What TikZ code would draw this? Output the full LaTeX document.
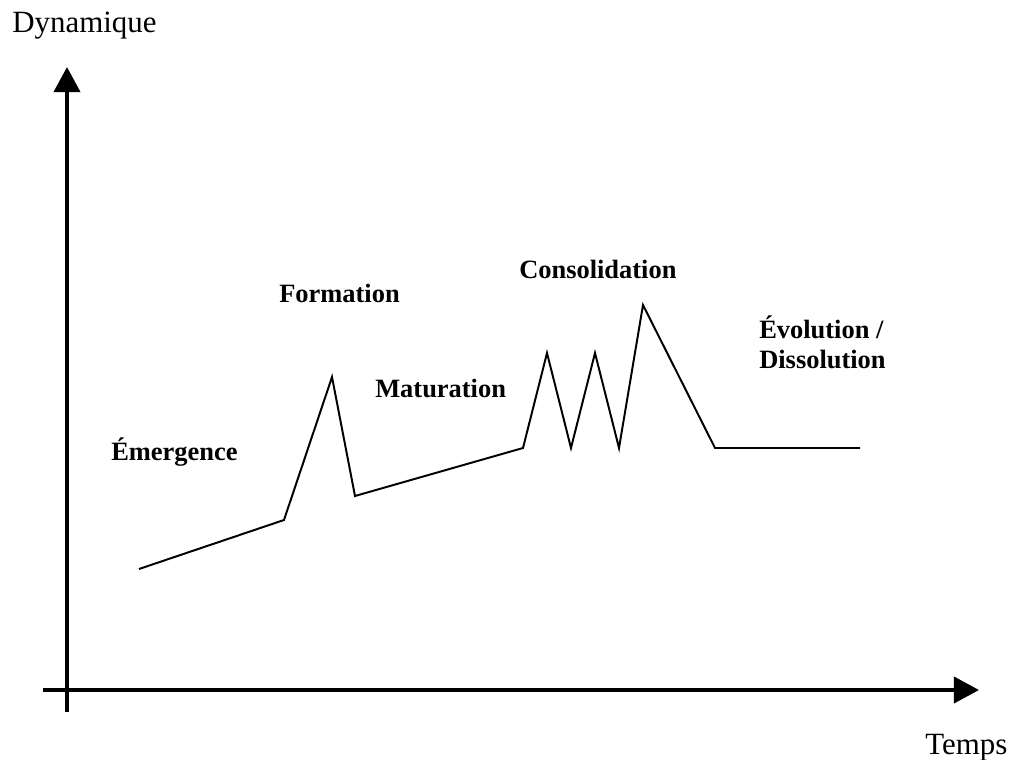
\documentclass[tikz,border=0pt]{standalone}
\usepackage{fontspec}
\setmainfont{Liberation Serif}
\usepackage{tikz}
\usetikzlibrary{arrows.meta}

\tikzset{
	axis/.style={line width=2.6pt, -{Triangle[length=17.8pt, width=18.5pt]}},
	curve/.style={line width=1.4pt, line join=miter},
	axislabel/.style={inner sep=0pt, anchor=base west, font=\fontsize{22}{26}\selectfont},
	phase/.style={inner sep=0pt, anchor=base west, align=left, font=\fontsize{18.8}{21.5}\selectfont\bfseries}
}

\begin{document}
\begin{tikzpicture}[x=0.025cm, y=-0.025cm]
	\useasboundingbox (0,0) rectangle (1012,760);

	% axes
	\coordinate (ybot) at (67,712);
	\coordinate (ytop) at (67,67);
	\coordinate (xleft) at (43,690);
	\coordinate (xright) at (979,690);
	\draw[axis] (ybot) to (ytop);
	\draw[axis] (xleft) to (xright);
	\node[axislabel] (dyn) at (12,33) {Dynamique};
	\node[axislabel] (temps) at (925,754) {Temps};

	% the curve
	\draw[curve] (139,569) -- (284,520) -- (332,377) -- (355,496) -- (523,448)
		-- (547,353) -- (571,448) -- (595,353) -- (619,448) -- (643,305)
		-- (715,448) -- (860,448);

	% phases
	\node[phase] (emergence) at (111,460) {Émergence};
	\node[phase] (formation) at (279,303) {Formation};
	\node[phase] (maturation) at (375,397) {Maturation};
	\node[phase] (consolidation) at (519,279) {Consolidation};
	\node[phase] (evolution) at (759,339) {Évolution /};
	\node[phase] (dissolution) at (759,369) {Dissolution};
\end{tikzpicture}
\end{document}
